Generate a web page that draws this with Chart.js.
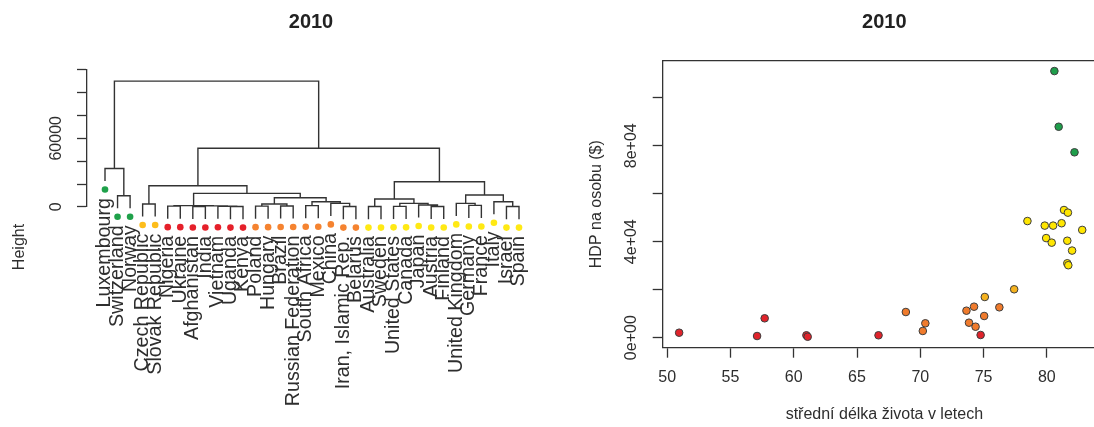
<!DOCTYPE html>
<html lang="cs">
<head>
<meta charset="UTF-8">
<title>2010 - HDP a střední délka života</title>
<script src="https://cdn.jsdelivr.net/npm/chart.js"></script>
<style>
    html, body { margin: 0; padding: 0; width: 1094px; height: 427px; overflow: hidden; background: #fff; }
    #dendro { position: absolute; left: 0; top: 0; }
    #scatter { position: absolute; left: 560px; top: 0; }
</style>
</head>
<body>
<canvas id="dendro" width="560" height="427"></canvas>
<canvas id="scatter" width="551" height="427"></canvas>
<script>
// dendrogram leaves, in plotting order
const countries = ['Luxembourg', 'Switzerland', 'Norway', 'Czech Republic', 'Slovak Republic',
    'Nigeria', 'Ukraine', 'Afghanistan', 'India', 'Vietnam', 'Uganda', 'Kenya',
    'Poland', 'Hungary', 'Brazil', 'Russian Federation', 'South Africa', 'Mexico', 'China',
    'Iran, Islamic Rep.', 'Belarus', 'Australia', 'Sweden', 'United States', 'Canada', 'Japan',
    'Austria', 'Finland', 'United Kingdom', 'Germany', 'France', 'Italy', 'Israel', 'Spain'];
const leafGroup = ['green', 'green', 'green', 'gold', 'gold',
    'red', 'red', 'red', 'red', 'red', 'red', 'red',
    'orange', 'orange', 'orange', 'orange', 'orange', 'orange', 'orange', 'orange', 'orange',
    'yellow', 'yellow', 'yellow', 'yellow', 'yellow', 'yellow', 'yellow',
    'yellow', 'yellow', 'yellow', 'yellow', 'yellow', 'yellow'];

// merge steps like hclust$merge: negative = leaf position, positive = earlier merge
const merges = [[-2, -3], [-1, 1], [-4, -5], [-6, -7], [-8, -9], [-11, -12], [-10, 6], [5, 7], [4, 8],
    [-13, -14], [-15, -16], [10, 11], [-17, -18], [-20, -21], [-19, 14], [13, 15], [12, 16], [9, 17], [3, 18],
    [-22, -23], [-24, -25], [-27, -28], [-26, 22], [21, 23], [20, 24],
    [-30, -31], [-29, 26], [-33, -34], [-32, 28], [27, 29], [25, 30], [19, 31], [2, 32]];
const mergeHeights = [9760, 33640, 2530, 700, 400, 300, 600, 900, 1100,
    700, 800, 2530, 1100, 300, 3100, 4500, 8000, 11850, 18480,
    300, 500, 350, 1650, 3100, 6900,
    1300, 3100, 300, 4500, 10400, 21960, 51330, 110000];
const heightTicks = [0, 20000, 40000, 60000, 80000, 100000, 120000];
const heightTickLabels = ['0', '', '', '60000', '', '', ''];

// scatter: life expectancy vs GDP per capita
const lifeExp = [50.94, 57.1, 57.7, 61.0, 61.1, 66.7, 74.77,
    68.86, 70.4, 70.2, 76.25, 74.25, 73.65, 75.05, 73.85, 74.37,
    77.42, 75.1,
    81.36, 81.67, 78.47, 79.84, 80.5, 81.17, 82.8, 79.95, 80.39, 81.62, 82.0, 81.62, 81.7,
    80.6, 80.94, 82.19];
const gdp = [2080, 700, 8080, 1000, 400, 1000, 1125,
    10700, 6000, 2800, 12660, 12920, 11250, 9040, 6250, 4580,
    20170, 16960,
    53200, 52100, 48600, 46700, 46700, 47700, 44900, 41500, 39600, 40400, 36300, 31000, 30200,
    111100, 87900, 77250];
const pointGroup = ['red', 'red', 'red', 'red', 'red', 'red', 'red',
    'orange', 'orange', 'orange', 'orange', 'orange', 'orange', 'orange', 'orange', 'orange',
    'gold', 'gold',
    'yellow', 'yellow', 'yellow', 'yellow', 'yellow', 'yellow', 'yellow', 'yellow', 'yellow',
    'yellow', 'yellow', 'yellow', 'yellow',
    'green', 'green', 'green'];
const lifeTicks = [50, 55, 60, 65, 70, 75, 80];
const gdpTicks = [0, 20000, 40000, 60000, 80000, 100000];
const gdpTickLabels = ['0e+00', '', '4e+04', '', '8e+04', ''];

const leafColors = { green: '#1fa14a', gold: '#fdbd1b', red: '#e5202a', orange: '#f58330', yellow: '#ffe914' };
const pointColors = { green: '#1f9e4b', gold: '#f5b21e', red: '#e0232b', orange: '#f07b2c', yellow: '#ffe600' };

const FONT = '"Liberation Sans", Arial, sans-serif';
const INK = '#2e2e2e';
Chart.defaults.font.family = FONT;
Chart.defaults.color = INK;

// build the dendrogram outline from the merge table
const HANG = 0.1 * Math.max(...mergeHeights);
const DOT_DROP = 7400;
const nodes = [];
const leafEnd = [];
const treeSegs = [];
merges.forEach(([a, b], k) => {
    const h = mergeHeights[k];
    const ends = [a, b].map(ref => {
        if (ref < 0) {
            leafEnd[-ref - 1] = h - HANG;
            return { x: -ref, y: h - HANG };
        }
        return nodes[ref - 1];
    });
    treeSegs.push({ x: ends[0].x, y: ends[0].y }, { x: ends[0].x, y: h },
        { x: ends[1].x, y: h }, { x: ends[1].x, y: ends[1].y }, { x: ends[1].x, y: null });
    nodes.push({ x: (ends[0].x + ends[1].x) / 2, y: h });
});
const leafDots = countries.map((c, i) => ({ x: i + 1, y: leafEnd[i] - DOT_DROP }));

// the leaf dots hang below the axis, so let them draw outside the chart area
const dotsBelowAxis = {
    id: 'dotsBelowAxis',
    beforeDatasetDraw(chart, args) {
        if (args.index !== 1) return;
        this.savedBottom = chart.chartArea.bottom;
        chart.chartArea.bottom = chart.height;
    },
    afterDatasetDraw(chart, args) {
        if (args.index !== 1) return;
        chart.chartArea.bottom = this.savedBottom;
    }
};

const leafLabels = {
    id: 'leafLabels',
    afterDatasetsDraw(chart) {
        const { ctx, scales: { x, y } } = chart;
        ctx.save();
        ctx.fillStyle = INK;
        ctx.font = '19.7px ' + FONT;
        ctx.textAlign = 'right';
        ctx.textBaseline = 'middle';
        countries.forEach((name, i) => {
            ctx.save();
            ctx.translate(x.getPixelForValue(i + 1), y.getPixelForValue(leafEnd[i]) + 17);
            ctx.rotate(-Math.PI / 2);
            ctx.fillText(name, 0, 0);
            ctx.restore();
        });
        // the y title sits lower than the axis, like plot.hclust does it
        ctx.font = '16px ' + FONT;
        ctx.textAlign = 'center';
        ctx.translate(20, 247);
        ctx.rotate(-Math.PI / 2);
        ctx.fillText('Height', 0, 0);
        ctx.restore();
    }
};

const axisGrid = { drawOnChartArea: false, tickLength: 10, tickColor: '#333', tickWidth: 1.3 };
const axisBorder = { color: '#333', width: 1.3 };
const titleOpts = (bottom) => ({
    display: true, text: '2010', fullSize: false, color: '#222',
    font: { size: 20, weight: 'bold' }, padding: { top: 10, bottom: bottom }
});

new Chart(document.getElementById('dendro'), {
    type: 'line',
    data: {
        datasets: [{
            data: treeSegs,
            borderColor: '#333',
            borderWidth: 1.4,
            pointRadius: 0,
            spanGaps: false,
            clip: false
        }, {
            type: 'scatter',
            data: leafDots,
            backgroundColor: leafGroup.map(g => leafColors[g]),
            borderWidth: 0,
            pointRadius: 3.3,
            clip: false
        }]
    },
    options: {
        responsive: false,
        animation: false,
        layout: { padding: { top: 0, right: 25, bottom: 220.1, left: 0 } },
        plugins: { legend: { display: false }, tooltip: { enabled: false }, title: titleOpts(35.7) },
        scales: {
            x: { type: 'linear', display: false, min: -0.435, max: 35.275 },
            y: {
                min: 0, max: 120000,
                afterBuildTicks: s => { s.ticks = heightTicks.map(v => ({ value: v })); },
                afterFit: s => { s.width = 87; },
                grid: axisGrid,
                border: axisBorder,
                ticks: {
                    autoSkip: false, minRotation: 90, maxRotation: 90, crossAlign: 'center',
                    padding: -2, font: { size: 16 }, color: INK,
                    callback: (v, i) => heightTickLabels[i]
                }
            }
        }
    },
    plugins: [dotsBelowAxis, leafLabels]
});

new Chart(document.getElementById('scatter'), {
    type: 'scatter',
    data: {
        datasets: [{
            data: lifeExp.map((v, i) => ({ x: v, y: gdp[i] })),
            backgroundColor: pointGroup.map(g => pointColors[g]),
            borderColor: '#3d3d3d',
            borderWidth: 1,
            pointRadius: 3.8
        }]
    },
    options: {
        responsive: false,
        animation: false,
        layout: { padding: 0 },
        plugins: { legend: { display: false }, tooltip: { enabled: false }, title: titleOpts(26.7) },
        scales: {
            x: {
                min: 49.64, max: 84.68,
                afterBuildTicks: s => { s.ticks = lifeTicks.map(v => ({ value: v })); },
                afterFit: s => { s.height = 79.3; },
                grid: axisGrid,
                border: axisBorder,
                ticks: { padding: 10.7, font: { size: 16 }, color: INK },
                title: {
                    display: true, text: 'střední délka života v letech',
                    font: { size: 16 }, color: INK, padding: { top: 0, bottom: 3 }
                }
            },
            x2: {
                type: 'linear', position: 'top',
                ticks: { display: false },
                grid: { display: false },
                border: axisBorder,
                afterFit: s => { s.height = 0; }
            },
            y: {
                min: -4170, max: 115420,
                afterBuildTicks: s => { s.ticks = gdpTicks.map(v => ({ value: v })); },
                afterFit: s => { s.width = 102.7; },
                grid: axisGrid,
                border: axisBorder,
                ticks: {
                    autoSkip: false, minRotation: 90, maxRotation: 90, crossAlign: 'center',
                    padding: -1.8, font: { size: 16 }, color: INK,
                    callback: (v, i) => gdpTickLabels[i]
                },
                title: {
                    display: true, text: 'HDP na osobu ($)',
                    font: { size: 16 }, color: INK, padding: { top: 27.4 }
                }
            }
        }
    }
});
</script>
</body>
</html>
